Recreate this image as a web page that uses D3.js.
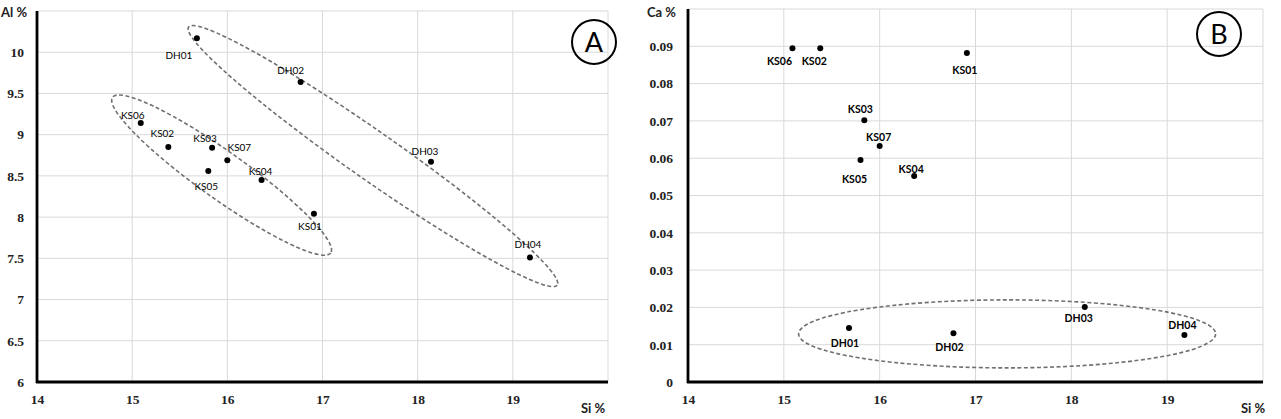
<!DOCTYPE html>
<html>
<head>
<meta charset="utf-8">
<script src="https://cdn.jsdelivr.net/npm/d3@7"></script>
<style>
  body { margin: 0; background: #fff; }
  svg { display: block; }
</style>
</head>
<body>
<div id="chart"></div>
<script>
// sample data
var sampleIds = ['DH01', 'DH02', 'DH03', 'DH04', 'KS01', 'KS02', 'KS03', 'KS04', 'KS05', 'KS06', 'KS07'];
var siValues  = [15.68, 16.77, 18.14, 19.18, 16.91, 15.38, 15.84, 16.36, 15.80, 15.09, 16.00];
var alValues  = [10.17, 9.64, 8.67, 7.51, 8.04, 8.85, 8.84, 8.45, 8.56, 9.14, 8.69];
var caValues  = [0.0145, 0.0131, 0.0201, 0.0126, 0.0882, 0.0895, 0.0702, 0.0552, 0.0595, 0.0895, 0.0633];

var siTicks = [14, 15, 16, 17, 18, 19];
var alTicks = [6, 6.5, 7, 7.5, 8, 8.5, 9, 9.5, 10];
var caTicks = [0, 0.01, 0.02, 0.03, 0.04, 0.05, 0.06, 0.07, 0.08, 0.09];

var samples = sampleIds.map((id, i) => ({id: id, si: siValues[i], al: alValues[i], ca: caValues[i]}));

// label placement (pixel offsets from the dot)
var labelOffA = {DH01: [-18, 17], DH02: [-10, -11], DH03: [-6, -10], DH04: [-2, -13],
  KS01: [-4, 13], KS02: [-6, -14], KS03: [-7, -9], KS04: [-1, -9], KS05: [-2, 16], KS06: [-8, -8], KS07: [12, -13]};
var labelOffB = {DH01: [-4, 15], DH02: [-4, 14], DH03: [-6, 11], DH04: [-2, -10],
  KS01: [-2, 17], KS02: [-6, 13], KS03: [-4, -11], KS04: [-3, -7], KS05: [-6, 19], KS06: [-13, 13], KS07: [-1, -9]};

var width = 1281, height = 419;
var svg = d3.select('#chart').append('svg')
    .attr('width', width)
    .attr('height', height);

function panel(opts) {
  const x = d3.scaleLinear().domain([14, 20]).range([opts.left, opts.right]);
  const y = d3.scaleLinear().domain(opts.yDomain).range([opts.bottom, opts.top]);
  const g = svg.append('g');

  // grid
  g.append('g').selectAll('line.v')
    .data(d3.range(15, 21))
    .join('line')
      .attr('x1', d => x(d)).attr('x2', d => x(d))
      .attr('y1', opts.top).attr('y2', opts.bottom)
      .attr('stroke', '#d9d9d9').attr('stroke-width', 1);
  g.append('g').selectAll('line.h')
    .data(opts.gridY)
    .join('line')
      .attr('x1', opts.left).attr('x2', opts.right)
      .attr('y1', d => y(d)).attr('y2', d => y(d))
      .attr('stroke', '#d9d9d9').attr('stroke-width', 1);

  // axes, ticks hidden, labels only
  const xAxis = g.append('g')
      .attr('transform', `translate(0,${opts.bottom})`)
      .call(d3.axisBottom(x).tickValues(siTicks).tickSize(0).tickPadding(12).tickFormat(d3.format('d')));
  const yAxis = g.append('g')
      .attr('transform', `translate(${opts.left},0)`)
      .call(d3.axisLeft(y).tickValues(opts.yTicks).tickSize(0).tickPadding(opts.yPad).tickFormat(opts.yFormat));
  [xAxis, yAxis].forEach(a => {
    a.select('.domain').remove();
    a.selectAll('text')
      .attr('font-family', '"Liberation Serif", serif')
      .attr('font-weight', 'bold')
      .attr('font-size', 13.5)
      .attr('fill', '#222');
  });

  // thick axis lines
  g.append('line')
    .attr('x1', opts.left).attr('x2', opts.left)
    .attr('y1', opts.top).attr('y2', opts.bottom + 1)
    .attr('stroke', '#000').attr('stroke-width', 2.8);
  g.append('line')
    .attr('x1', opts.left - 1).attr('x2', opts.right)
    .attr('y1', opts.bottom).attr('y2', opts.bottom)
    .attr('stroke', '#000').attr('stroke-width', 2.8);

  // axis titles
  g.append('text')
    .attr('x', opts.yTitleX).attr('y', 17)
    .attr('font-family', 'Lato, sans-serif').attr('font-weight', 'bold')
    .attr('font-size', 13).attr('fill', '#222')
    .text(opts.yTitle);
  g.append('text')
    .attr('x', opts.siTitleX).attr('y', 413)
    .attr('text-anchor', 'middle')
    .attr('font-family', 'Lato, sans-serif').attr('font-weight', 'bold')
    .attr('font-size', 13).attr('fill', '#222')
    .text('Si %');

  // group ellipses
  g.append('g').selectAll('ellipse')
    .data(opts.ellipses)
    .join('ellipse')
      .attr('cx', 0).attr('cy', 0)
      .attr('rx', d => d.rx).attr('ry', d => d.ry)
      .attr('transform', d => `translate(${x(d.si)},${y(d.v)}) rotate(${d.angle})`)
      .attr('fill', 'none')
      .attr('stroke', '#707070')
      .attr('stroke-width', 1.6)
      .attr('stroke-dasharray', '4,2.5');

  // dots
  g.append('g').selectAll('circle')
    .data(samples)
    .join('circle')
      .attr('cx', d => x(d.si))
      .attr('cy', d => y(d[opts.key]))
      .attr('r', 3)
      .attr('fill', '#000');

  // labels
  g.append('g').selectAll('text')
    .data(samples)
    .join('text')
      .attr('x', d => x(d.si) + opts.offsets[d.id][0])
      .attr('y', d => y(d[opts.key]) + opts.offsets[d.id][1])
      .attr('dy', '0.35em')
      .attr('text-anchor', 'middle')
      .attr('font-family', 'Lato, sans-serif')
      .attr('font-weight', opts.labelWeight)
      .attr('font-size', opts.labelSize)
      .attr('fill', '#000')
      .text(d => d.id);

  // panel letter
  g.append('circle')
    .attr('cx', opts.letterX).attr('cy', opts.letterY).attr('r', 22)
    .attr('fill', 'none').attr('stroke', '#000').attr('stroke-width', 2);
  g.append('text')
    .attr('x', opts.letterX).attr('y', opts.letterY)
    .attr('dy', '0.36em')
    .attr('text-anchor', 'middle')
    .attr('font-family', 'Lato, sans-serif')
    .attr('font-size', 27)
    .attr('fill', '#000')
    .text(opts.letter);
}

panel({
  left: 37, right: 608, top: 11, bottom: 382,
  yDomain: [6, 10.5], yTicks: alTicks, gridY: [6.5, 7, 7.5, 8, 8.5, 9, 9.5, 10, 10.5],
  yFormat: d3.format('~g'), yPad: 13, key: 'al',
  yTitle: 'Al %', yTitleX: 1, siTitleX: 593,
  offsets: labelOffA, labelSize: 10, labelWeight: 'normal',
  ellipses: [
    {si: 15.94, v: 8.51, rx: 134, ry: 23.5, angle: 35.5},
    {si: 17.53, v: 8.74, rx: 225, ry: 24, angle: 35}
  ],
  letter: 'A', letterX: 594, letterY: 42
});

panel({
  left: 688, right: 1263, top: 9, bottom: 382,
  yDomain: [0, 0.1], yTicks: caTicks, gridY: d3.range(1, 11).map(d => d / 100),
  yFormat: d => d === 0 ? '0' : d3.format('.2f')(d), yPad: 15, key: 'ca',
  yTitle: 'Ca %', yTitleX: 647, siTitleX: 1253,
  offsets: labelOffB, labelSize: 10.5, labelWeight: 'bold',
  ellipses: [
    {si: 17.33, v: 0.0129, rx: 208.5, ry: 34, angle: 0}
  ],
  letter: 'B', letterX: 1219, letterY: 34
});
</script>
</body>
</html>
